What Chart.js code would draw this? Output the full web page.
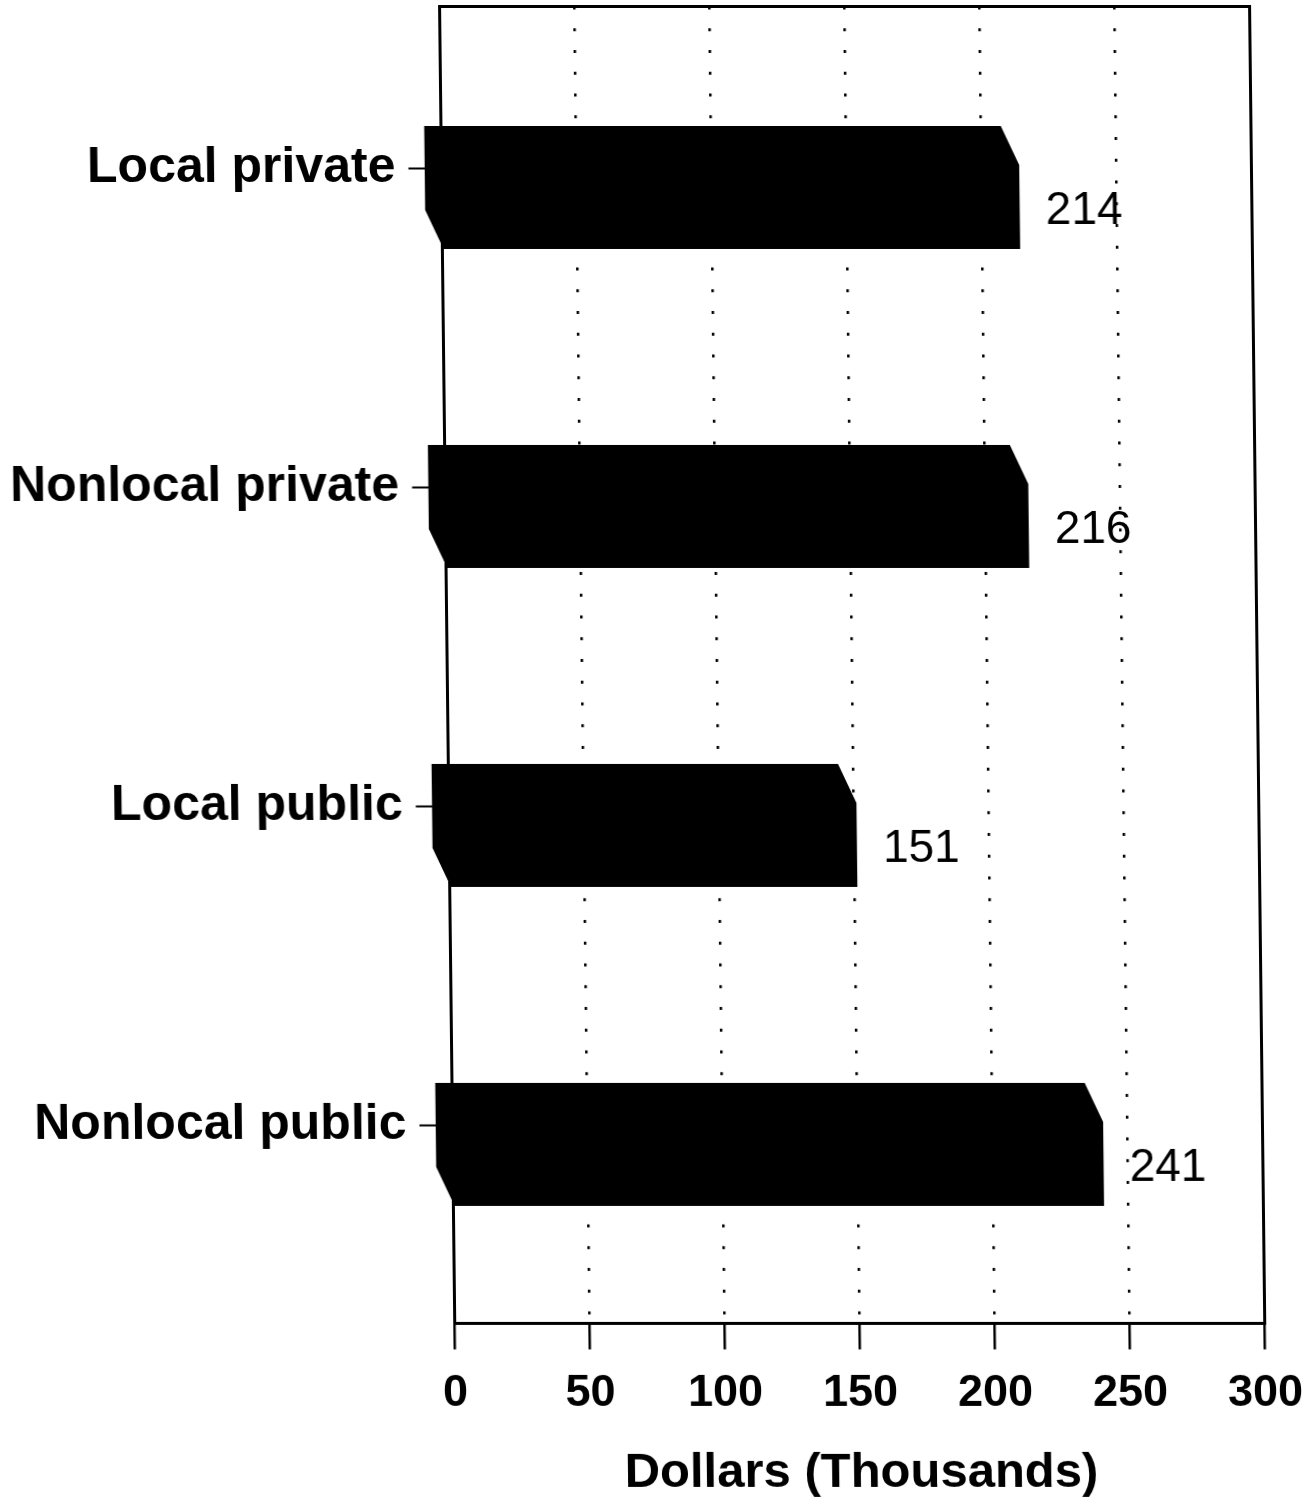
<!DOCTYPE html>
<html>
<head>
<meta charset="utf-8">
<title>Dollars (Thousands)</title>
<script src="https://cdn.jsdelivr.net/npm/chart.js@4/dist/chart.umd.min.js"></script>
<style>
  html, body { margin: 0; padding: 0; background: #fff; }
  #wrap { width: 1314px; height: 1507px; overflow: hidden; }
  /* the printed page sits slightly askew */
  canvas { display: block; transform: skewX(0.66deg); transform-origin: 0 0; }
</style>
</head>
<body>
<div id="wrap"><canvas id="chart" width="1314" height="1507"></canvas></div>
<script>
// ---- data ----
const categories = ['Local private', 'Nonlocal private', 'Local public', 'Nonlocal public'];
const salaries = [214, 216, 151, 241];
const xTickValues = [0, 50, 100, 150, 200, 250, 300];
const xAxisTitle = 'Dollars (Thousands)';

// ---- look ----
const FONT = "'Liberation Sans', Arial, Helvetica, sans-serif";
const DEPTH_X = 18;   // how far the back face sits to the left
const DEPTH_Y = 39;   // how far the front face sits below the back face

// Frame around the plot and the extruded (3-D slab) bars with their value labels
const slabPlugin = {
  id: 'slabs',
  beforeDatasetsDraw(chart) {
    const { ctx, chartArea: a } = chart;
    ctx.save();
    ctx.lineWidth = 3;
    ctx.strokeStyle = '#000';
    ctx.strokeRect(a.left, a.top, a.right - a.left, a.bottom - a.top);
    ctx.restore();
  },
  afterDatasetsDraw(chart) {
    const ctx = chart.ctx;
    const ds = chart.data.datasets[0];
    const meta = chart.getDatasetMeta(0);
    ctx.save();
    meta.data.forEach((bar, i) => {
      const { x, y, base, height } = bar.getProps(['x', 'y', 'base', 'height'], true);
      const top = y - height / 2;
      const bottom = y + height / 2;
      ctx.beginPath();
      ctx.moveTo(base - DEPTH_X, top);
      ctx.lineTo(x - DEPTH_X, top);
      ctx.lineTo(x, top + DEPTH_Y);
      ctx.lineTo(x, bottom + DEPTH_Y);
      ctx.lineTo(base, bottom + DEPTH_Y);
      ctx.lineTo(base - DEPTH_X, bottom);
      ctx.closePath();
      ctx.fillStyle = '#000';
      ctx.fill();

      ctx.font = `46px ${FONT}`;
      ctx.textAlign = 'left';
      ctx.textBaseline = 'alphabetic';
      ctx.fillText(String(ds.data[i].x), x + 26, y + DEPTH_Y + 17);
    });
    ctx.restore();
  }
};

new Chart(document.getElementById('chart'), {
  type: 'bar',
  data: {
    datasets: [{
      data: salaries.map((v, i) => ({ x: v, y: i + 1 })),
      backgroundColor: 'rgba(0,0,0,0)',
      borderWidth: 0,
      barThickness: 84
    }]
  },
  options: {
    indexAxis: 'y',
    responsive: false,
    animation: false,
    events: [],
    layout: { padding: { top: 6.5, right: 64.5, bottom: 0, left: 0 } },
    plugins: { legend: { display: false }, tooltip: { enabled: false } },
    scales: {
      x: {
        type: 'linear',
        position: 'bottom',
        min: 0,
        max: 300,
        bounds: 'data',
        offset: false,
        afterBuildTicks: s => { s.ticks = xTickValues.map(v => ({ value: v })); },
        afterFit: s => { s.height = 1507 - 1323.5; },
        grid: {
          color: c => (c.tick && (c.tick.value === 0 || c.tick.value === 300)) ? 'rgba(0,0,0,0)' : '#000',
          lineWidth: 2.5,
          offset: false,
          drawOnChartArea: true,
          drawTicks: true,
          tickLength: 26,
          tickWidth: 2.5,
          tickColor: '#000'
        },
        border: { display: false, dash: [3, 18.75] },
        ticks: {
          color: '#000',
          autoSkip: false,
          maxRotation: 0,
          padding: 17,
          font: { family: FONT, size: 45, weight: 'bold' }
        },
        title: {
          display: true,
          text: xAxisTitle,
          color: '#000',
          padding: { top: 0, bottom: 4 },
          font: { family: FONT, size: 49, weight: 'bold' }
        }
      },
      y: {
        type: 'linear',
        position: 'left',
        reverse: true,
        min: 0.4937,
        max: 4.622,
        bounds: 'data',
        offset: false,
        afterBuildTicks: s => { s.ticks = categories.map((_, i) => ({ value: i + 1 })); },
        afterFit: s => { s.width = 439.5; s.paddingTop = 0; s.paddingBottom = 0; },
        grid: {
          offset: false,
          drawOnChartArea: false,
          drawTicks: true,
          tickLength: 33,
          tickWidth: 2,
          tickColor: '#000'
        },
        border: { display: false },
        ticks: {
          color: '#000',
          autoSkip: false,
          padding: 13,
          font: { family: FONT, size: 50, weight: 'bold' },
          callback: v => categories[v - 1] ?? ''
        }
      }
    }
  },
  plugins: [slabPlugin]
});
</script>
</body>
</html>
